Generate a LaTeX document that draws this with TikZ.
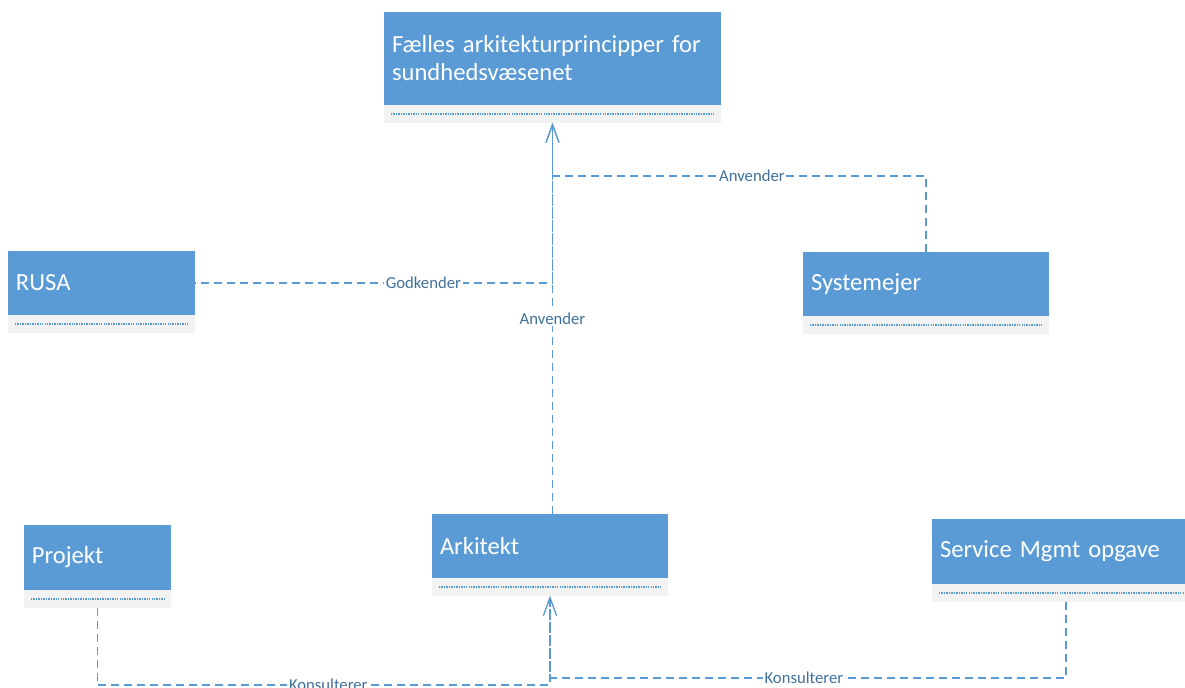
\documentclass[tikz,border=0pt]{standalone}
\usepackage{fontspec}
\setmainfont{Carlito}
\usetikzlibrary{arrows.meta,positioning}
\definecolor{blaa}{HTML}{5B9BD5}
\definecolor{graa}{HTML}{F2F2F2}
\definecolor{tekst}{HTML}{41719C}
\begin{document}
\begin{tikzpicture}[x=0.02cm,y=-0.02cm]
	\tikzstyle{klasse}=[anchor=north west,fill=blaa,text=white,inner xsep=0.16cm,inner ysep=0pt,outer sep=0pt,minimum height=1.28cm,align=left,font=\fontsize{14}{16}\selectfont]
	\tikzstyle{ops}=[fill=graa,minimum height=0.36cm,inner sep=0pt,outer sep=0pt,path picture={\draw[blaa,dash pattern=on 0.8pt off 0.6pt,line width=0.6pt] ([xshift=0.14cm]path picture bounding box.west) -- ([xshift=-0.14cm]path picture bounding box.east);}]
	\tikzstyle{dep}=[draw=blaa,line width=0.6pt,dash pattern=on 0.16cm off 0.1cm,-{Straight Barb[length=0.36cm,width=0.26cm]}]
	\tikzstyle{lbl}=[fill=white,text=tekst,inner sep=1pt,font=\fontsize{9.5}{11}\selectfont]
	\useasboundingbox (0,0) rectangle (1185,688);
	\begin{scope}
		\node [klasse,text width=6.42cm,minimum height=1.86cm] (faelles) at (384,12) {Fælles arkitekturprincipper for\\sundhedsvæsenet};
		\node [ops,minimum width=6.74cm,below=0pt of faelles] (faelles-ops) {};
		\node [klasse,text width=3.42cm] (rusa) at (8,251) {RUSA};
		\node [ops,minimum width=3.74cm,below=0pt of rusa] (rusa-ops) {};
		\node [klasse,text width=4.6cm] (systemejer) at (803,252) {Systemejer};
		\node [ops,minimum width=4.92cm,below=0pt of systemejer] (systemejer-ops) {};
		\node [klasse,text width=2.62cm,minimum height=1.3cm] (projekt) at (24,525) {Projekt};
		\node [ops,minimum width=2.94cm,below=0pt of projekt] (projekt-ops) {};
		\node [klasse,text width=4.4cm] (arkitekt) at (432,514) {Arkitekt};
		\node [ops,minimum width=4.72cm,below=0pt of arkitekt] (arkitekt-ops) {};
		\node [klasse,text width=5.04cm,minimum height=1.3cm] (service) at (932,519) {Service Mgmt opgave};
		\node [ops,minimum width=5.36cm,below=0pt of service] (service-ops) {};
		% afhaengigheder
		\path[dep] ([xshift=-1.18cm]rusa.east) -- node[lbl,pos=0.69] {Godkender} (faelles-ops.south |- rusa.east) -- (faelles-ops.south);
		\path[dep] (systemejer.north) -- ++(0,-76) -| node[lbl,pos=0.233] {Anvender} (faelles-ops.south);
		\path[dep] (arkitekt.north -| faelles-ops.south) -- node[lbl] {Anvender} (faelles-ops.south);
		\path[dep] (projekt-ops.south) -- ++(0,77) -| node[lbl,pos=0.255] {Konsulterer} (arkitekt-ops.south);
		\path[dep] (service-ops.south) -- ++(0,76) -| node[lbl,pos=0.254] {Konsulterer} (arkitekt-ops.south);
	\end{scope}
\end{tikzpicture}
\end{document}
